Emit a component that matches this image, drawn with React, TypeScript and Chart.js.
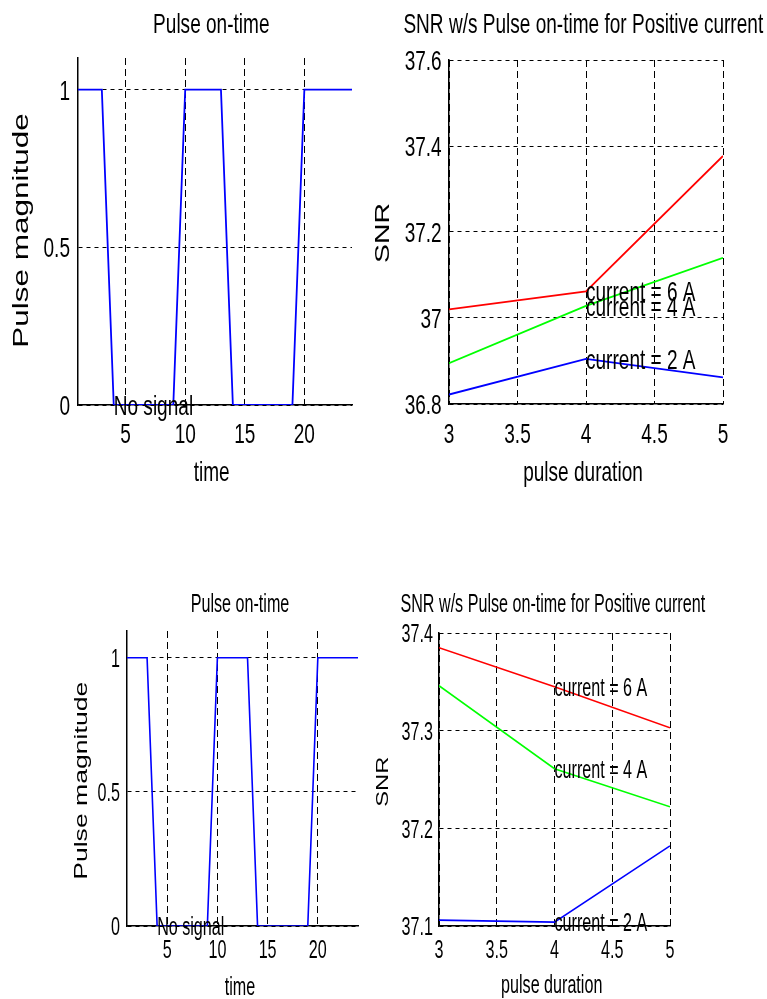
import React, { useEffect, useRef } from 'react';
import { Chart, registerables } from 'chart.js';

Chart.register(...registerables);

// ---------- data ----------
const timeValues = [1, 2, 3, 4, 5, 6, 7, 8, 9, 10, 11, 12, 13, 14, 15, 16, 17, 18, 19, 20, 21, 22, 23, 24];
const pulseValues = [1, 1, 1, 0, 0, 0, 0, 0, 0, 1, 1, 1, 1, 0, 0, 0, 0, 0, 0, 1, 1, 1, 1, 1];

const durationValues = [3, 4, 5];
const snrTop6A = [37.02, 37.062, 37.377];
const snrTop4A = [36.895, 37.028, 37.14];
const snrTop2A = [36.822, 36.905, 36.862];
const snrBottom6A = [37.385, 37.345, 37.303];
const snrBottom4A = [37.346, 37.261, 37.222];
const snrBottom2A = [37.106, 37.104, 37.182];

const currentLabels = ['current = 6 A', 'current = 4 A', 'current = 2 A'];
const seriesColors = ['#ff0000', '#00ff00', '#0000ff'];
const pulseColor = '#0000ff';

const pulseTitle = 'Pulse on-time';
const snrTitle = 'SNR w/s Pulse on-time for Positive current';
const pulseXLabel = 'time';
const pulseYLabel = 'Pulse magnitude';
const snrXLabel = 'pulse duration';
const snrYLabel = 'SNR';
const noSignalLabel = 'No signal';
const labelAtDuration = 4;
const noSignalAt = [4, 0];

const FONT = '"Liberation Sans", Arial, Helvetica, sans-serif';

type TextOpts = {
  size: number;
  k: number;
  align?: CanvasTextAlign;
  vertical?: boolean;
};

function drawText(ctx: CanvasRenderingContext2D, text: string, x: number, y: number, o: TextOpts) {
  ctx.save();
  ctx.translate(x, y);
  ctx.scale(o.k, 1);
  if (o.vertical) ctx.rotate(-Math.PI / 2);
  ctx.font = `${o.size}px ${FONT}`;
  ctx.fillStyle = '#000';
  ctx.textAlign = o.align ?? 'center';
  ctx.textBaseline = 'alphabetic';
  ctx.fillText(text, 0, 0);
  ctx.restore();
}

const fmt = (v: number) => String(Number(v.toFixed(3)));

type Panel = {
  box: { x: number; y: number; w: number; h: number };
  area: { l: number; r: number; t: number; b: number };
  xr: [number, number, number];
  yr: [number, number, number];
  datasets: any[];
  title: string;
  xLabel: string;
  yLabel: string;
  size: number;
  k: number;
  titlePos: [number, number];
  xLabelPos: [number, number];
  yLabelPos: [number, number, number];
  xTickBase: number;
  yTickRight: number;
  annotations: { text: string; x: number; y: number }[];
};

function lineSet(xs: number[], ys: number[], color: string, width = 1.8) {
  return {
    data: xs.map((x, i) => ({ x, y: ys[i] })),
    borderColor: color,
    backgroundColor: color,
    borderWidth: width,
    pointRadius: 0,
    tension: 0,
    fill: false,
  };
}

const snrNotes = (a: number[], b: number[], c: number[]) => {
  const i = durationValues.indexOf(labelAtDuration);
  return [
    { text: currentLabels[0], x: labelAtDuration, y: a[i] },
    { text: currentLabels[1], x: labelAtDuration, y: b[i] },
    { text: currentLabels[2], x: labelAtDuration, y: c[i] },
  ];
};

const panels: Panel[] = [
  {
    box: { x: 0, y: 0, w: 360, h: 500 },
    area: { l: 78, r: 352, t: 58, b: 405 },
    xr: [1, 24, 5],
    yr: [0, 1.1, 0.5],
    datasets: [lineSet(timeValues, pulseValues, pulseColor, 1.8)],
    title: pulseTitle,
    xLabel: pulseXLabel,
    yLabel: pulseYLabel,
    size: 28,
    k: 0.68,
    titlePos: [211.3, 33.3],
    xLabelPos: [211.7, 481],
    yLabelPos: [28.3, 230.5, 31.5],
    xTickBase: 443,
    yTickRight: 70,
    annotations: [{ text: noSignalLabel, x: noSignalAt[0], y: noSignalAt[1] }],
  },
  {
    box: { x: 360, y: 0, w: 407, h: 500 },
    area: { l: 449, r: 723, t: 60, b: 404 },
    xr: [3, 5, 0.5],
    yr: [36.8, 37.6, 0.2],
    datasets: [
      lineSet(durationValues, snrTop6A, seriesColors[0]),
      lineSet(durationValues, snrTop4A, seriesColors[1]),
      lineSet(durationValues, snrTop2A, seriesColors[2]),
    ],
    title: snrTitle,
    xLabel: snrXLabel,
    yLabel: snrYLabel,
    size: 28,
    k: 0.68,
    titlePos: [583.3, 33],
    xLabelPos: [583, 481],
    yLabelPos: [389, 233, 28.4],
    xTickBase: 443,
    yTickRight: 441.7,
    annotations: snrNotes(snrTop6A, snrTop4A, snrTop2A),
  },
  {
    box: { x: 0, y: 500, w: 360, h: 499 },
    area: { l: 127, r: 358, t: 631, b: 926 },
    xr: [1, 24, 5],
    yr: [0, 1.1, 0.5],
    datasets: [lineSet(timeValues, pulseValues, pulseColor, 1.6)],
    title: pulseTitle,
    xLabel: pulseXLabel,
    yLabel: pulseYLabel,
    size: 25.6,
    k: 0.63,
    titlePos: [240, 611.7],
    xLabelPos: [240, 995],
    yLabelPos: [87, 780.8, 26.6],
    xTickBase: 958,
    yTickRight: 120,
    annotations: [{ text: noSignalLabel, x: noSignalAt[0], y: noSignalAt[1] }],
  },
  {
    box: { x: 360, y: 500, w: 407, h: 499 },
    area: { l: 439, r: 670, t: 633, b: 926 },
    xr: [3, 5, 0.5],
    yr: [37.1, 37.4, 0.1],
    datasets: [
      lineSet(durationValues, snrBottom6A, seriesColors[0], 1.6),
      lineSet(durationValues, snrBottom4A, seriesColors[1], 1.6),
      lineSet(durationValues, snrBottom2A, seriesColors[2], 1.6),
    ],
    title: snrTitle,
    xLabel: snrXLabel,
    yLabel: snrYLabel,
    size: 25.6,
    k: 0.63,
    titlePos: [552.8, 611.7],
    xLabelPos: [551.7, 993],
    yLabelPos: [388.3, 781.7, 23.7],
    xTickBase: 958,
    yTickRight: 433,
    annotations: snrNotes(snrBottom6A, snrBottom4A, snrBottom2A),
  },
];

function PanelChart({ p }: { p: Panel }) {
  const ref = useRef<HTMLCanvasElement>(null);
  useEffect(() => {
    const canvas = ref.current!;
    const ox = p.box.x;
    const oy = p.box.y;
    const yAxisW = p.area.l - ox;
    const xAxisH = oy + p.box.h - p.area.b;
    const textPlugin = {
      id: 'figureText',
      afterDraw(chart: any) {
        const ctx: CanvasRenderingContext2D = chart.ctx;
        const xs = chart.scales.x;
        const ys = chart.scales.y;
        const base = { size: p.size, k: p.k };
        xs.ticks.forEach((t: any) => {
          drawText(ctx, fmt(t.value), xs.getPixelForValue(t.value), p.xTickBase - oy, base);
        });
        ys.ticks.forEach((t: any) => {
          drawText(ctx, fmt(t.value), p.yTickRight - ox, ys.getPixelForValue(t.value) + p.size * 0.36, {
            ...base,
            align: 'right',
          });
        });
        drawText(ctx, p.title, p.titlePos[0] - ox, p.titlePos[1] - oy, base);
        drawText(ctx, p.xLabel, p.xLabelPos[0] - ox, p.xLabelPos[1] - oy, base);
        drawText(ctx, p.yLabel, p.yLabelPos[0] - ox, p.yLabelPos[1] - oy, {
          size: p.yLabelPos[2],
          k: 0.68,
          vertical: true,
        });
        p.annotations.forEach((a) => {
          drawText(ctx, a.text, xs.getPixelForValue(a.x), ys.getPixelForValue(a.y) + p.size * 0.36, {
            ...base,
            align: 'left',
          });
        });
      },
    };
    const chart = new Chart(canvas, {
      type: 'line',
      data: { datasets: p.datasets },
      options: {
        animation: false,
        responsive: false,
        devicePixelRatio: 1,
        layout: {
          padding: { left: 0, top: p.area.t - oy, right: ox + p.box.w - p.area.r, bottom: 0 },
        },
        plugins: { legend: { display: false }, tooltip: { enabled: false }, title: { display: false } },
        scales: {
          x: {
            type: 'linear',
            min: p.xr[0],
            max: p.xr[1],
            ticks: { display: false, stepSize: p.xr[2], includeBounds: false },
            grid: { color: '#000', lineWidth: 1, drawTicks: false },
            border: { display: true, color: '#000', width: 1.5, dash: [7, 4] },
            afterFit: (s: any) => {
              s.height = xAxisH;
            },
          },
          y: {
            type: 'linear',
            min: p.yr[0],
            max: p.yr[1],
            ticks: { display: false, stepSize: p.yr[2], includeBounds: false },
            grid: { color: '#000', lineWidth: 1, drawTicks: false },
            border: { display: true, color: '#000', width: 1.5, dash: [4, 4] },
            afterFit: (s: any) => {
              s.width = yAxisW;
            },
          },
        },
      } as any,
      plugins: [textPlugin],
    });
    return () => chart.destroy();
  }, [p]);
  return (
    <canvas
      ref={ref}
      width={p.box.w}
      height={p.box.h}
      style={{ position: 'absolute', left: p.box.x, top: p.box.y, width: p.box.w, height: p.box.h }}
    />
  );
}

export default function App() {
  return (
    <div style={{ position: 'absolute', left: 0, top: 0, width: 767, height: 999, background: '#ffffff', overflow: 'hidden' }}>
      {panels.map((p, i) => (
        <PanelChart key={i} p={p} />
      ))}
    </div>
  );
}
